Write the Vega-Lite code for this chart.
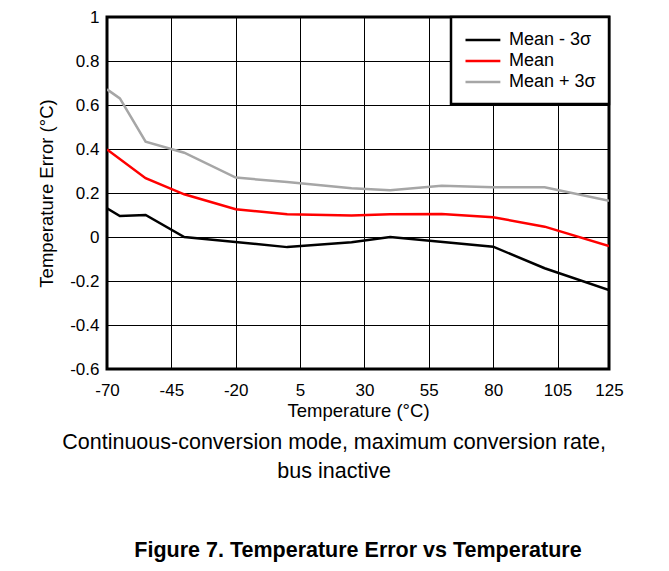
{
  "$schema": "https://vega.github.io/schema/vega-lite/v6.json",
  "autosize": "none",
  "width": 502,
  "height": 352,
  "padding": {"left": 107, "top": 17, "right": 60, "bottom": 202},
  "background": "white",
  "config": {
    "font": "Liberation Sans",
    "view": {"stroke": "black", "strokeWidth": 3},
    "axis": {
      "grid": true, "gridColor": "black", "gridWidth": 1, "gridOpacity": 1,
      "domain": false, "ticks": false,
      "labelFont": "Liberation Sans", "labelFontSize": 17, "labelColor": "black",
      "titleFont": "Liberation Sans", "titleFontSize": 18.5, "titleFontWeight": "normal", "titleColor": "black"
    },
    "legend": {
      "labelFont": "Liberation Sans", "labelFontSize": 18, "labelColor": "black",
      "strokeWidth": 2.5
    }
  },
  "title": {
    "text": ["Continuous-conversion mode, maximum conversion rate,\u00a0\u00a0\u00a0\u00a0\u00a0\u00a0\u00a0\u00a0\u200b", "bus inactive\u00a0\u00a0\u00a0\u00a0\u00a0\u00a0\u00a0\u00a0\u200b"],
    "orient": "bottom",
    "anchor": "middle",
    "frame": "group",
    "fontSize": 21.5,
    "fontWeight": "normal",
    "lineHeight": 29.5,
    "color": "black",
    "offset": 12,
    "subtitle": "Figure 7. Temperature Error vs Temperature",
    "subtitleFontSize": 21.5,
    "subtitleFontWeight": "bold",
    "subtitleColor": "black",
    "subtitlePadding": 57,
    "subtitleFont": "Liberation Sans"
  },
  "data": {
    "values": [
      {"T": -70, "v": 0.13, "s": "Mean - 3σ"},
      {"T": -65, "v": 0.095, "s": "Mean - 3σ"},
      {"T": -55, "v": 0.10, "s": "Mean - 3σ"},
      {"T": -40, "v": 0.0, "s": "Mean - 3σ"},
      {"T": 0, "v": -0.046, "s": "Mean - 3σ"},
      {"T": 25, "v": -0.024, "s": "Mean - 3σ"},
      {"T": 40, "v": 0.0, "s": "Mean - 3σ"},
      {"T": 80, "v": -0.044, "s": "Mean - 3σ"},
      {"T": 100, "v": -0.142, "s": "Mean - 3σ"},
      {"T": 125, "v": -0.241, "s": "Mean - 3σ"},
      {"T": -70, "v": 0.398, "s": "Mean"},
      {"T": -55, "v": 0.267, "s": "Mean"},
      {"T": -40, "v": 0.194, "s": "Mean"},
      {"T": -20, "v": 0.126, "s": "Mean"},
      {"T": 0, "v": 0.103, "s": "Mean"},
      {"T": 25, "v": 0.098, "s": "Mean"},
      {"T": 40, "v": 0.103, "s": "Mean"},
      {"T": 60, "v": 0.105, "s": "Mean"},
      {"T": 80, "v": 0.090, "s": "Mean"},
      {"T": 100, "v": 0.047, "s": "Mean"},
      {"T": 125, "v": -0.041, "s": "Mean"},
      {"T": -70, "v": 0.671, "s": "Mean + 3σ"},
      {"T": -65, "v": 0.630, "s": "Mean + 3σ"},
      {"T": -55, "v": 0.433, "s": "Mean + 3σ"},
      {"T": -40, "v": 0.383, "s": "Mean + 3σ"},
      {"T": -20, "v": 0.27, "s": "Mean + 3σ"},
      {"T": 0, "v": 0.25, "s": "Mean + 3σ"},
      {"T": 25, "v": 0.222, "s": "Mean + 3σ"},
      {"T": 40, "v": 0.212, "s": "Mean + 3σ"},
      {"T": 60, "v": 0.233, "s": "Mean + 3σ"},
      {"T": 80, "v": 0.226, "s": "Mean + 3σ"},
      {"T": 100, "v": 0.226, "s": "Mean + 3σ"},
      {"T": 125, "v": 0.165, "s": "Mean + 3σ"}
    ]
  },
  "mark": {"type": "line", "strokeWidth": 2.5, "clip": true},
  "encoding": {
    "x": {
      "field": "T", "type": "quantitative",
      "scale": {"domain": [-70, 125], "nice": false, "zero": false},
      "axis": {
        "values": [-70, -45, -20, 5, 30, 55, 80, 105, 125],
        "labelExpr": "'' + datum.value",
        "labelFlush": false,
        "labelPadding": 13,
        "title": "Temperature (°C)",
        "titlePadding": 3
      }
    },
    "y": {
      "field": "v", "type": "quantitative",
      "scale": {"domain": [-0.6, 1], "nice": false, "zero": false},
      "axis": {
        "values": [-0.6, -0.4, -0.2, 0, 0.2, 0.4, 0.6, 0.8, 1],
        "labelExpr": "'' + datum.value",
        "labelFlush": false,
        "labelPadding": 8,
        "title": "Temperature Error (°C)",
        "titlePadding": 13
      }
    },
    "color": {
      "field": "s", "type": "nominal",
      "scale": {"domain": ["Mean - 3σ", "Mean", "Mean + 3σ"], "range": ["black", "#ff0000", "#a6a6a6"]},
      "legend": {
        "title": null,
        "orient": "top-right",
        "offset": 0,
        "strokeColor": "black",
        "fillColor": "white",
        "padding": 13,
        "symbolType": "M-1,0H3.1",
        "symbolSize": 289,
        "symbolStrokeWidth": 2.5,
        "labelOffset": 25,
        "rowPadding": 2
      }
    }
  }
}
